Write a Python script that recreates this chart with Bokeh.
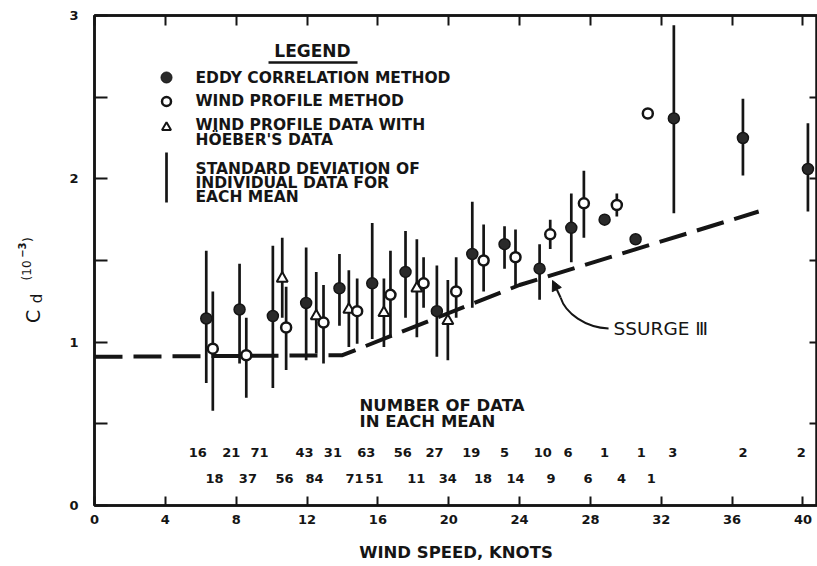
import numpy as np
from bokeh.plotting import figure
from bokeh.layouts import row
from bokeh.models import (Range1d, LinearAxis, FixedTicker, Label, Arrow,
                          NormalHead, ColumnDataSource)
from bokeh.core.properties import value
from bokeh.embed import file_html
from bokeh.resources import INLINE

# ---------------- data ----------------
# Eddy correlation method (filled circles)
eddy_ws = [6.31, 8.19, 10.07, 11.95, 13.83, 15.68, 17.56, 19.33, 21.33, 23.15,
           25.13, 26.92, 28.80, 30.55, 32.71, 36.61, 40.28]
eddy_cd = [1.145, 1.20, 1.16, 1.24, 1.33, 1.36, 1.43, 1.19, 1.54, 1.60,
           1.45, 1.70, 1.75, 1.63, 2.37, 2.25, 2.06]
eddy_hi = [1.56, 1.48, 1.59, 1.58, 1.54, 1.73, 1.68, 1.47, 1.86, 1.71,
           1.60, 1.91, np.nan, np.nan, 2.94, 2.49, 2.34]
eddy_lo = [0.75, 0.87, 0.72, 0.89, 1.10, 1.02, 1.15, 0.91, 1.21, 1.45,
           1.26, 1.49, np.nan, np.nan, 1.79, 2.02, 1.80]
eddy_n = [16, 21, 71, 43, 31, 63, 56, 27, 19, 5, 10, 6, 1, 1, 3, 2, 2]
eddy_n_ws = [5.83, 7.72, 9.32, 11.86, 13.46, 15.34, 17.41, 19.20, 21.27, 23.15,
             25.31, 26.73, 28.80, 30.87, 32.65, 36.61, 39.90]

# Wind profile method (open circles)
prof_ws = [6.68, 8.57, 10.82, 12.93, 14.83, 16.71, 18.58, 20.42, 21.97, 23.77,
           25.73, 27.63, 29.49, 31.24]
prof_cd = [0.96, 0.92, 1.09, 1.12, 1.19, 1.29, 1.36, 1.31, 1.50, 1.52,
           1.66, 1.85, 1.84, 2.40]
prof_hi = [1.31, 1.15, 1.34, 1.35, 1.39, 1.56, 1.52, 1.52, 1.72, 1.69,
           1.75, 2.05, 1.91, np.nan]
prof_lo = [0.58, 0.66, 0.83, 0.87, 0.99, 1.03, 1.21, 1.15, 1.31, 1.34,
           1.57, 1.64, 1.77, np.nan]
prof_n = [18, 37, 56, 84, 71, 51, 11, 34, 18, 14, 9, 6, 4, 1]
prof_n_ws = [6.78, 8.66, 10.73, 12.42, 14.68, 15.81, 18.17, 19.95, 21.93, 23.77,
             25.78, 27.86, 29.75, 31.44]

# Wind profile data with Hoeber's data (open triangles)
hoeb_ws = [10.60, 12.52, 14.36, 16.34, 18.20, 19.95]
hoeb_cd = [1.39, 1.16, 1.20, 1.18, 1.33, 1.13]
hoeb_hi = [1.64, 1.43, 1.44, 1.39, 1.63, 1.38]
hoeb_lo = [1.15, 0.93, 0.97, 0.97, 1.03, 0.89]

# SSURGE III curve
ssurge_ws = [0.0, 14.0, 24.0, 37.5]
ssurge_cd = [0.91, 0.92, 1.35, 1.80]

x_ticks = list(range(0, 41, 4))
y_ticks = [0, 1, 2, 3]
y_minor = [0.5, 1.5, 2.5]
y_all = [0.5, 1.0, 1.5, 2.0, 2.5]

# y-axis title pieces: C_d (10^-3)
ylab_text = ["C", "d", "(10", "−3", ")"]

# ---------------- styling helpers ----------------
INK = "#151515"
FONT = "DejaVu Sans"
LABEL_W = 50          # width of the strip holding the y-axis title
PAGE_H = 566
YL_SHIFT = 28         # empirical correction of the strip's vertical placement


def X(px):  # page pixel -> knots (for annotation placement)
    return (px - 94.0) / 17.71


def Y(py):  # page pixel -> Cd
    return (505.0 - py) / 163.33


# ---------- narrow strip on the left with the rotated y title ----------
q = figure(width=LABEL_W, height=PAGE_H, output_backend="svg",
           toolbar_location=None, x_range=Range1d(0, LABEL_W),
           y_range=Range1d(0, PAGE_H), x_axis_location=None,
           y_axis_location=None, min_border=0)
q.outline_line_color = None
q.background_fill_color = "white"
q.border_fill_color = "white"
q.grid.visible = False
yl_pos = [(32.5, 319.5, "19px", "normal"),
          (36.5, 299.0, "15px", "normal"),
          (26.5, 266.5, "12px", "normal"),
          (21.0, 243.0, "10px", "bold"),
          (27.5, 231.0, "12px", "normal")]
for t, (px, py, fs, fw) in zip(ylab_text, yl_pos):
    q.text(x=[px], y=[PAGE_H - py - YL_SHIFT], text=[t], angle=np.pi / 2,
           text_font=value(FONT), text_font_size=fs, text_font_style=fw,
           text_color=INK, text_align="center", text_baseline="middle")

# ---------------- main chart ----------------
p = figure(width=817 - LABEL_W, height=PAGE_H, output_backend="svg",
           toolbar_location=None,
           x_range=Range1d(0, 40.82), y_range=Range1d(0, 3),
           x_axis_location=None, y_axis_location=None,
           min_border_left=94 - LABEL_W, min_border_right=0,
           min_border_top=15, min_border_bottom=61)
p.background_fill_color = "white"
p.border_fill_color = "white"
p.outline_line_color = INK
p.outline_line_width = 2.5
p.grid.visible = False


def style_axis(ax):
    ax.axis_line_color = INK
    ax.axis_line_width = 2.5
    ax.major_tick_line_color = INK
    ax.major_tick_line_width = 2
    ax.minor_tick_line_color = INK
    ax.minor_tick_line_width = 2
    ax.major_tick_out = 0
    ax.minor_tick_out = 0
    ax.major_label_text_font = FONT
    ax.major_label_text_font_style = "bold"
    ax.major_label_text_color = INK
    ax.major_label_text_font_size = "13px"


bottom = LinearAxis(ticker=FixedTicker(ticks=x_ticks))
style_axis(bottom)
bottom.major_tick_in = 9
bottom.major_label_standoff = 9
bottom.axis_label = "WIND SPEED, KNOTS"
bottom.axis_label_text_font = FONT
bottom.axis_label_text_font_style = "bold"
bottom.axis_label_text_font_size = "16.5px"
bottom.axis_label_text_color = INK
bottom.axis_label_standoff = 16
p.add_layout(bottom, "below")

# top and right axes: tick marks only (drawn as minor ticks, no labels)
top = LinearAxis(ticker=FixedTicker(ticks=[], minor_ticks=x_ticks))
style_axis(top)
top.minor_tick_in = 10
p.add_layout(top, "above")

left = LinearAxis(ticker=FixedTicker(ticks=y_ticks, minor_ticks=y_minor))
style_axis(left)
left.major_tick_in = 13
left.minor_tick_in = 13
left.major_label_standoff = 16
p.add_layout(left, "left")

right = LinearAxis(ticker=FixedTicker(ticks=[], minor_ticks=y_all))
style_axis(right)
right.minor_tick_in = 8
p.add_layout(right, "right")

# ---------------- SSURGE III dashed curve ----------------
p.line(ssurge_ws, ssurge_cd, line_color=INK, line_width=4, line_dash="28 11")

# ---------------- error bars ----------------
BAR_W = 2.7
for ws, lo, hi in ((eddy_ws, eddy_lo, eddy_hi), (prof_ws, prof_lo, prof_hi),
                   (hoeb_ws, hoeb_lo, hoeb_hi)):
    src = ColumnDataSource(dict(
        x=[w for w, a in zip(ws, lo) if not np.isnan(a)],
        lo=[a for a in lo if not np.isnan(a)],
        hi=[b for b in hi if not np.isnan(b)]))
    p.segment(x0="x", y0="lo", x1="x", y1="hi", source=src,
              line_color=INK, line_width=BAR_W)

# ---------------- markers ----------------
p.scatter(hoeb_ws, hoeb_cd, marker="triangle", size=11, fill_color="white",
          line_color=INK, line_width=2)
p.scatter(prof_ws, prof_cd, marker="circle", size=10, fill_color="white",
          line_color=INK, line_width=2.5)
p.scatter(eddy_ws, eddy_cd, marker="circle", size=11, fill_color="#2a2a2a",
          line_color=INK, line_width=1.5)

# ---------------- counts ----------------
txt_kw = dict(text_font=value(FONT), text_font_style="bold",
              text_font_size="13px", text_color=INK,
              text_align="center", text_baseline="middle")
p.text(x=eddy_n_ws, y=[Y(452)] * len(eddy_n), text=[str(v) for v in eddy_n],
       **txt_kw)
p.text(x=prof_n_ws, y=[Y(478)] * len(prof_n), text=[str(v) for v in prof_n],
       **txt_kw)

lab_kw = dict(text_font=FONT, text_font_style="bold", text_color=INK,
              text_baseline="middle")
p.add_layout(Label(x=X(359), y=Y(405), text="NUMBER OF DATA",
                   text_font_size="16.5px", **lab_kw))
p.add_layout(Label(x=X(359), y=Y(421), text="IN EACH MEAN",
                   text_font_size="16.5px", **lab_kw))

# ---------------- legend (drawn by hand) ----------------
p.add_layout(Label(x=X(312), y=Y(51), text="LEGEND", text_align="center",
                   text_font_size="17px", **lab_kw))
p.segment(x0=[X(268)], y0=[Y(62)], x1=[X(357)], y1=[Y(62)],
          line_color=INK, line_width=2.5)
p.scatter([X(166)], [Y(77)], marker="circle", size=11, fill_color="#2a2a2a",
          line_color=INK)
p.scatter([X(166)], [Y(101)], marker="circle", size=9, fill_color="white",
          line_color=INK, line_width=2.5)
p.scatter([X(166)], [Y(127)], marker="triangle", size=9, fill_color="white",
          line_color=INK, line_width=2)
p.segment(x0=[X(166)], y0=[Y(152)], x1=[X(166)], y1=[Y(202)],
          line_color=INK, line_width=BAR_W)
leg_lines = [("EDDY CORRELATION METHOD", 78),
             ("WIND PROFILE METHOD", 101),
             ("WIND PROFILE DATA WITH", 125),
             ("HÖEBER'S DATA", 140),
             ("STANDARD DEVIATION OF", 169),
             ("INDIVIDUAL DATA FOR", 183),
             ("EACH MEAN", 197)]
for t, py in leg_lines:
    p.add_layout(Label(x=X(195), y=Y(py), text=t, text_font_size="15.5px",
                       **lab_kw))

# ---------------- SSURGE III label + arrow ----------------
p.add_layout(Label(x=X(613), y=Y(328), text="SSURGE Ⅲ",
                   text_font_size="18.5px", text_font=FONT, text_color=INK,
                   text_baseline="middle"))
p.bezier(x0=[X(608)], y0=[Y(328)], x1=[X(560)], y1=[Y(297)],
         cx0=[X(585)], cy0=[Y(327)], cx1=[X(565)], cy1=[Y(313)],
         line_color=INK, line_width=2)
p.add_layout(Arrow(end=NormalHead(size=10, fill_color=INK, line_color=INK),
                   x_start=X(560), y_start=Y(297), x_end=X(552), y_end=Y(280),
                   line_color=INK, line_width=2))

layout = row(q, p, spacing=0)
open("out.html", "w").write(file_html(layout, INLINE))
